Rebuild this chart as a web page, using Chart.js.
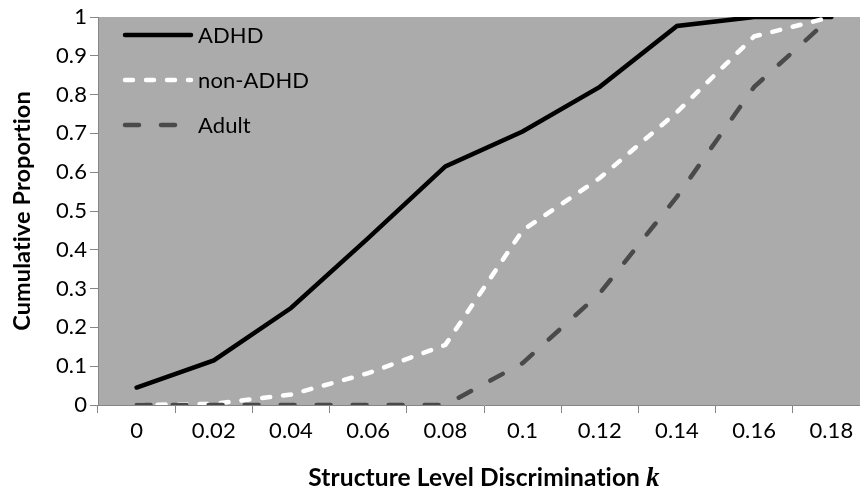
<!DOCTYPE html>
<html>
<head>
<meta charset="utf-8">
<script src="https://cdn.jsdelivr.net/npm/chart.js@4.4.0/dist/chart.umd.min.js"></script>
<style>
  body { margin: 0; background: #fff; overflow: hidden; }
  #wrap { width: 872px; height: 489px; }
</style>
</head>
<body>
<div id="wrap"><canvas id="cdf_chart" width="872" height="489"></canvas></div>
<script>
// x categories (k) + cumulative proportions
const kLabels = ['0', '0.02', '0.04', '0.06', '0.08', '0.1', '0.12', '0.14', '0.16', '0.18'];
const adhd    = [0.045, 0.115, 0.25, 0.43, 0.615, 0.705, 0.82, 0.977, 1, 1];
const nonAdhd = [0, 0.003, 0.027, 0.082, 0.155, 0.45, 0.585, 0.755, 0.95, 1];
const adult   = [0, 0, 0, 0, 0, 0.108, 0.288, 0.537, 0.82, 1];
const seriesNames = ['ADHD', 'non-ADHD', 'Adult'];
const xTitleText = 'Structure Level Discrimination ';
const xTitleVar = 'k';
const yTitleText = 'Cumulative Proportion';

const axisGray = '#868686';

// gray plot area (+ tiny letter spacing so Lato doesn't ligate "ti")
const plotBg = {
  id: 'plotBg',
  beforeDraw(chart) {
    const {ctx, chartArea: a} = chart;
    if ('letterSpacing' in ctx) ctx.letterSpacing = '0.1px';
    ctx.save();
    ctx.fillStyle = '#ababab';
    ctx.fillRect(a.left, a.top, a.right - a.left, a.bottom - a.top);
    ctx.restore();
  }
};

// legend drawn inside the plot, top left, like the excel one
const legendInside = {
  id: 'legendInside',
  afterDatasetsDraw(chart) {
    const {ctx, chartArea: a} = chart;
    chart.data.datasets.forEach((ds, i) => {
      const y = a.top + 18 + i * 45;
      const x = a.left + 27;
      ctx.save();
      ctx.strokeStyle = ds.borderColor;
      ctx.lineWidth = ds.borderWidth;
      ctx.lineCap = ds.borderCapStyle || 'butt';
      ctx.setLineDash(ds.borderDash || []);
      ctx.beginPath();
      ctx.moveTo(x, y);
      ctx.lineTo(x + 66, y);
      ctx.stroke();
      ctx.setLineDash([]);
      ctx.fillStyle = '#000';
      ctx.font = '22px Lato';
      ctx.textBaseline = 'middle';
      ctx.fillText(ds.label, x + 73, y + 1);
      ctx.restore();
    });
  }
};

// x title with the italic k (chart.js title can't mix fonts)
const xTitle = {
  id: 'xTitle',
  afterDraw(chart) {
    const {ctx, chartArea: a} = chart;
    const f1 = 'bold 24.5px Lato';
    const f2 = 'italic bold 27px "Liberation Serif"';
    ctx.save();
    ctx.font = f1;
    const w1 = ctx.measureText(xTitleText).width;
    ctx.font = f2;
    const w2 = ctx.measureText(xTitleVar).width;
    let x = (a.left + a.right) / 2 - (w1 + w2) / 2;
    const y = 486;
    ctx.fillStyle = '#000';
    ctx.textBaseline = 'alphabetic';
    ctx.font = f1;
    ctx.fillText(xTitleText, x, y);
    ctx.font = f2;
    ctx.fillText(xTitleVar, x + w1, y);
    ctx.restore();
  }
};

const ctx = document.getElementById('cdf_chart').getContext('2d');
new Chart(ctx, {
  type: 'line',
  data: {
    labels: kLabels,
    datasets: [
      { label: seriesNames[0], data: adhd, borderColor: '#000000', borderWidth: 4.5,
        borderCapStyle: 'round', order: 3 },
      { label: seriesNames[1], data: nonAdhd, borderColor: '#ffffff', borderWidth: 4.5,
        borderDash: [8, 13], borderCapStyle: 'round', order: 2 },
      { label: seriesNames[2], data: adult, borderColor: '#4a4a4a', borderWidth: 4.5,
        borderDash: [14, 22], borderCapStyle: 'round', order: 1 }
    ]
  },
  options: {
    responsive: false,
    animation: false,
    events: [],
    elements: { point: { radius: 0 }, line: { tension: 0 } },
    layout: { padding: { top: 17, right: 2, left: 0, bottom: 0 } },
    plugins: { legend: { display: false }, tooltip: { enabled: false } },
    scales: {
      x: {
        offset: true,
        grid: { offset: true, drawOnChartArea: false, tickLength: 8, color: axisGray },
        border: { color: axisGray, width: 1 },
        ticks: { color: '#000', font: { family: 'Lato', size: 22 }, padding: 5, maxRotation: 0 },
        afterFit(scale) { scale.height = 84; }
      },
      y: {
        min: 0, max: 1,
        grid: { drawOnChartArea: false, tickLength: 8, color: axisGray },
        border: { color: axisGray, width: 1 },
        ticks: {
          stepSize: 0.1, color: '#000', font: { family: 'Lato', size: 22 }, padding: 3,
          callback: v => String(Number(v.toFixed(1)))
        },
        title: {
          display: true, text: yTitleText, color: '#000',
          font: { family: 'Lato', size: 23.5, weight: 'bold' }, padding: { top: 8, bottom: 0 }
        },
        afterFit(scale) { scale.width = 98; }
      }
    }
  },
  plugins: [plotBg, legendInside, xTitle]
});
</script>
</body>
</html>
